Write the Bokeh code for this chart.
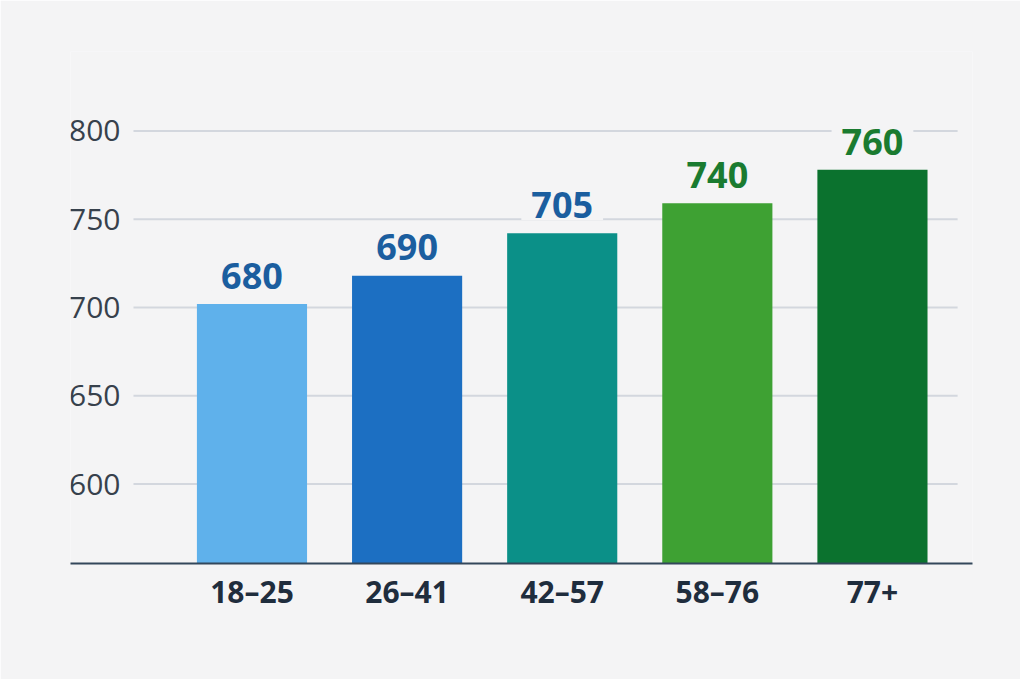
from bokeh.core.properties import value
from bokeh.embed import file_html
from bokeh.models import ColumnDataSource, FixedTicker, Range1d
from bokeh.plotting import figure
from bokeh.resources import INLINE

# data
groups = ["18–25", "26–41", "42–57", "58–76", "77+"]
bar_heights = [702, 718, 742, 759, 778]
bar_labels = ["680", "690", "705", "740", "760"]
y_ticks = [600, 650, 700, 750, 800]

# styles
bar_colors = ["#5fb1eb", "#1c6fc2", "#0b9088", "#3ea133", "#0b722e"]
label_colors = ["#1b5e9f", "#1b5e9f", "#1b5e9f", "#1a7b30", "#1a7b30"]
BG = "#f4f4f5"
FONT = value("Open Sans")

Y0, Y1 = 555, 845
LABEL_GAP = 16  # in data units

p = figure(
    width=1020,
    height=679,
    x_range=Range1d(-1.17, 4.645),
    y_range=Range1d(Y0, Y1),
    output_backend="svg",
    toolbar_location=None,
    min_border_left=70,
    min_border_right=48,
    min_border_top=51,
    min_border_bottom=116,
)
p.background_fill_color = BG
p.border_fill_color = BG
p.outline_line_color = None
p.grid.visible = False
p.yaxis.visible = False

# horizontal grid lines (start a little right of the axis line)
p.segment(x0=-0.764, x1=4.549, y0=y_ticks, y1=y_ticks,
          line_color="#d3d7de", line_width=2)

# y tick labels
p.text(x=[-0.848] * len(y_ticks), y=y_ticks, text=[str(t) for t in y_ticks],
       text_font=FONT, text_font_size="30px", text_color="#37414c",
       text_align="right", text_baseline="middle")

src = ColumnDataSource(dict(
    x=list(range(len(groups))),
    top=bar_heights,
    label_y=[h + LABEL_GAP for h in bar_heights],
    label=bar_labels,
    color=bar_colors,
    lcolor=label_colors,
))

p.vbar(x="x", top="top", bottom=Y0, width=0.71, color="color",
       line_color=None, source=src)

p.text(x="x", y="label_y", text="label", source=src,
       text_font=FONT, text_font_size="36px", text_font_style="bold",
       text_color="lcolor", text_align="center", text_baseline="alphabetic",
       background_fill_color=BG, padding=(10, 2))

# x axis
xa = p.xaxis[0]
xa.ticker = FixedTicker(ticks=list(range(len(groups))))
xa.major_label_overrides = {i: g for i, g in enumerate(groups)}
xa.axis_line_color = "#33475b"
xa.axis_line_width = 2
xa.major_tick_line_color = None
xa.minor_tick_line_color = None
xa.major_label_standoff = 1
xa.major_label_text_font = "Open Sans"
xa.major_label_text_font_size = "30px"
xa.major_label_text_font_style = "bold"
xa.major_label_text_color = "#1f2d3d"

open("out.html", "w").write(file_html(p, INLINE))
